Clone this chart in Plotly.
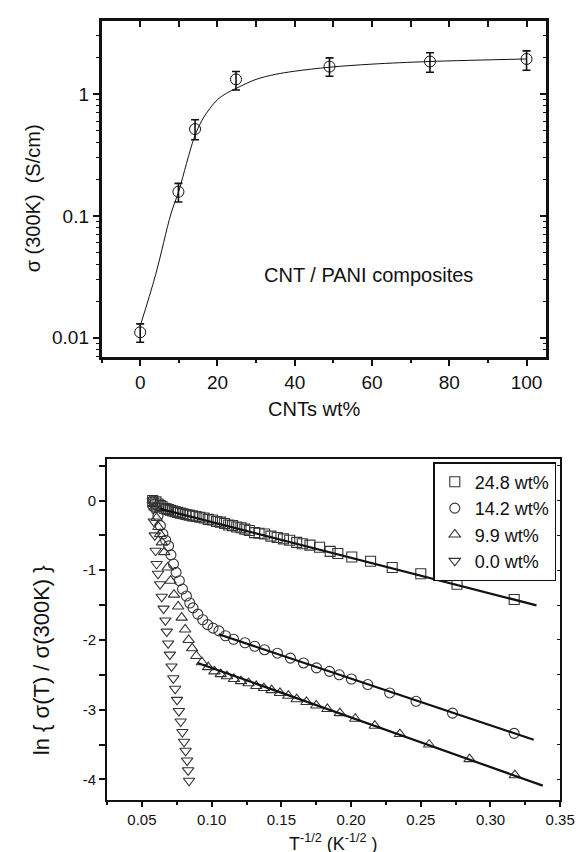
import plotly.graph_objects as go

W, H = 586, 852
FONT = "Liberation Sans, Arial, sans-serif"
INK = "#111111"

# ---- top panel: sigma(300K) vs CNT content ----
WT = [0, 9.9, 14.2, 24.8, 49, 75, 100]
SIGMA = [0.0111, 0.158, 0.516, 1.32, 1.68, 1.85, 1.94]
ERR_UP = [0.0019, 0.027, 0.10, 0.21, 0.30, 0.33, 0.32]
ERR_DN = [0.0019, 0.028, 0.094, 0.24, 0.28, 0.34, 0.37]

FIT_WT = [0, 4, 8, 10, 12, 14, 16, 18, 20, 22, 25, 30, 35, 40, 49, 60, 75, 100]
FIT_SIGMA = [0.0125, 0.033, 0.105, 0.16, 0.27, 0.44, 0.61, 0.76, 0.90, 1.00,
             1.12, 1.32, 1.45, 1.54, 1.66, 1.76, 1.85, 1.94]

# ---- bottom panel: ln(sigma(T)/sigma(300K)) vs T^-1/2 ----
X_248 = [0.0577, 0.0600, 0.0615, 0.0630, 0.0645, 0.0660, 0.0675, 0.0690, 0.0705, 0.0720,
         0.0738, 0.0756, 0.0775, 0.0795, 0.0815, 0.0838, 0.0862, 0.0888, 0.0915, 0.0945,
         0.0975, 0.1006, 0.1035, 0.1064, 0.1093, 0.1122, 0.1150, 0.1180, 0.1210, 0.1238,
         0.1270, 0.1308, 0.1340, 0.1380, 0.1425, 0.1470, 0.1515, 0.1560, 0.1610, 0.1650,
         0.1705, 0.1774, 0.1850, 0.1905, 0.2005, 0.2140, 0.2295, 0.2500, 0.2760, 0.3170]
Y_248 = [0.00, -0.02, -0.05, -0.07, -0.09, -0.11, -0.12, -0.13, -0.14, -0.15,
         -0.16, -0.17, -0.18, -0.19, -0.20, -0.21, -0.22, -0.23, -0.24, -0.25,
         -0.27, -0.28, -0.30, -0.31, -0.33, -0.35, -0.36, -0.38, -0.39, -0.41,
         -0.43, -0.46, -0.47, -0.48, -0.51, -0.53, -0.55, -0.57, -0.60, -0.62,
         -0.64, -0.67, -0.73, -0.76, -0.81, -0.87, -0.96, -1.05, -1.20, -1.42]

X_142 = [0.0577, 0.0590, 0.0600, 0.0615, 0.0632, 0.0650, 0.0670, 0.0691, 0.0708, 0.0726,
         0.0745, 0.0768, 0.0791, 0.0819, 0.0843, 0.0866, 0.0901, 0.0936, 0.0971, 0.1010,
         0.1052, 0.1099, 0.1157, 0.1239, 0.1309, 0.1379, 0.1472, 0.1565, 0.1659, 0.1752,
         0.1845, 0.1915, 0.2002, 0.2120, 0.2277, 0.2466, 0.2728, 0.3170]
Y_142 = [0.00, -0.05, -0.10, -0.22, -0.36, -0.48, -0.57, -0.65, -0.78, -0.91,
         -1.03, -1.15, -1.27, -1.37, -1.47, -1.54, -1.63, -1.71, -1.78, -1.83,
         -1.87, -1.94, -1.99, -2.04, -2.09, -2.14, -2.19, -2.26, -2.33, -2.40,
         -2.45, -2.50, -2.56, -2.64, -2.76, -2.88, -3.05, -3.34]

X_99 = [0.0577, 0.0590, 0.0605, 0.0618, 0.0630, 0.0643, 0.0660, 0.0685, 0.0705, 0.0730,
        0.0760, 0.0785, 0.0810, 0.0835, 0.0860, 0.0890, 0.0930, 0.0975, 0.1020, 0.1065,
        0.1110, 0.1160, 0.1210, 0.1265, 0.1320, 0.1375, 0.1430, 0.1490, 0.1550, 0.1610,
        0.1680, 0.1750, 0.1830, 0.1920, 0.2030, 0.2170, 0.2350, 0.2560, 0.2850, 0.3175]
Y_99 = [0.00, -0.10, -0.25, -0.38, -0.48, -0.60, -0.74, -0.96, -1.15, -1.35,
        -1.52, -1.68, -1.85, -2.00, -2.12, -2.23, -2.32, -2.39, -2.45, -2.49,
        -2.52, -2.56, -2.59, -2.62, -2.66, -2.69, -2.72, -2.76, -2.80, -2.85,
        -2.89, -2.94, -2.99, -3.05, -3.13, -3.23, -3.35, -3.50, -3.71, -3.94]

X_00 = [0.0577, 0.0580, 0.0585, 0.0592, 0.0598, 0.0605, 0.0615, 0.0630, 0.0642, 0.0655,
        0.0668, 0.0678, 0.0688, 0.0700, 0.0712, 0.0725, 0.0738, 0.0752, 0.0765, 0.0778,
        0.0790, 0.0802, 0.0813, 0.0824, 0.0831, 0.0838]
Y_00 = [0.00, -0.12, -0.30, -0.50, -0.72, -0.91, -1.05, -1.20, -1.38, -1.55,
        -1.72, -1.88, -2.05, -2.21, -2.38, -2.55, -2.70, -2.86, -3.02, -3.17,
        -3.32, -3.46, -3.59, -3.73, -3.87, -4.02]

# straight-line fits (end points)
FIT_248_X, FIT_248_Y = [0.0633, 0.333], [-0.12, -1.503]
FIT_142_X, FIT_142_Y = [0.105, 0.331], [-1.918, -3.432]
FIT_99_X, FIT_99_Y = [0.090, 0.3375], [-2.33, -4.09]

X_TOP_TICKS = [0, 20, 40, 60, 80, 100]
Y_TOP_TICKS = [0.01, 0.1, 1]
X_BOT_TICKS = [0.05, 0.10, 0.15, 0.20, 0.25, 0.30, 0.35]
Y_BOT_TICKS = [0, -1, -2, -3, -4]


def px_x(p):
    return p / W


def px_y(p):
    return 1 - p / H


fig = go.Figure()

fig.add_trace(go.Scatter(
    x=FIT_WT, y=FIT_SIGMA, mode="lines", line=dict(color=INK, width=1, shape="spline"),
    showlegend=False, hoverinfo="skip", xaxis="x", yaxis="y",
))
fig.add_trace(go.Scatter(
    x=WT, y=SIGMA, mode="markers",
    marker=dict(symbol="circle-open", size=11, color=INK, line=dict(width=1)),
    error_y=dict(type="data", array=ERR_UP, arrayminus=ERR_DN, color=INK, thickness=1.6, width=4),
    showlegend=False, xaxis="x", yaxis="y",
))
# dummy traces so the inside-tick overlay axes get drawn
fig.add_trace(go.Scatter(x=[None], y=[None], xaxis="x3", yaxis="y3", showlegend=False, hoverinfo="skip"))
fig.add_trace(go.Scatter(x=[None], y=[None], xaxis="x2", yaxis="y4", showlegend=False, hoverinfo="skip"))

series = [
    ("24.8 wt%", X_248, Y_248, "square-open"),
    ("14.2 wt%", X_142, Y_142, "circle-open"),
    ("9.9 wt%", X_99, Y_99, "triangle-up-open"),
    ("0.0 wt%", X_00, Y_00, "triangle-down-open"),
]
for name, xs, ys, sym in series:
    fig.add_trace(go.Scatter(
        x=xs, y=ys, mode="markers", name=name,
        marker=dict(symbol=sym, size=10, color="#333333", line=dict(width=1.1)),
        xaxis="x2", yaxis="y2",
    ))
for fx, fy in [(FIT_248_X, FIT_248_Y), (FIT_142_X, FIT_142_Y), (FIT_99_X, FIT_99_Y)]:
    fig.add_trace(go.Scatter(
        x=fx, y=fy, mode="lines", line=dict(color=INK, width=2.2),
        showlegend=False, hoverinfo="skip", xaxis="x2", yaxis="y2",
    ))

top_x_dom = [px_x(96), px_x(552)]
top_y_dom = [px_y(349.3), px_y(13.3)]
bot_x_dom = [px_x(101.7), px_x(566.7)]
bot_y_dom = [px_y(792.3), px_y(450.7)]
top_yr = [-2.16, 0.597]

axis_common = dict(showgrid=False, zeroline=False, color=INK, tickcolor=INK, linecolor=INK,
                   tickfont=dict(size=19, color=INK))

fig.update_layout(
    width=W, height=H, paper_bgcolor="white", plot_bgcolor="white",
    font=dict(family=FONT, color=INK),
    margin=dict(l=0, r=0, t=0, b=0),
    xaxis=dict(**axis_common, domain=top_x_dom, anchor="y", range=[-10, 105],
               tickvals=X_TOP_TICKS, ticks="outside", ticklen=6, tickwidth=1.5,
               minor=dict(dtick=10, ticks="outside", ticklen=3, tickwidth=1.5, tickcolor=INK),
               showline=True, linewidth=2.5, mirror=True),
    yaxis=dict(**axis_common, domain=top_y_dom, anchor="x", type="log", range=top_yr,
               tickvals=Y_TOP_TICKS, ticktext=["0.01", "0.1", "1"],
               ticks="outside", ticklen=6, tickwidth=1.5,
               minor=dict(dtick="D1", ticks="outside", ticklen=3, tickwidth=1.2, tickcolor=INK),
               showline=True, linewidth=2.5, mirror=True),
    xaxis3=dict(overlaying="x", anchor="y", side="top", range=[-10, 105], showgrid=False,
                zeroline=False, showticklabels=False, tickvals=list(range(0, 101, 10)),
                ticks="inside", ticklen=6, tickwidth=1.5, tickcolor=INK, showline=False),
    yaxis3=dict(overlaying="y", anchor="x", side="right", type="log", range=top_yr, showgrid=False,
                zeroline=False, showticklabels=False, tickvals=Y_TOP_TICKS,
                ticks="inside", ticklen=6, tickwidth=1.5, tickcolor=INK,
                minor=dict(dtick="D1", ticks="inside", ticklen=3, tickwidth=1.2, tickcolor=INK),
                showline=False),
    xaxis2=dict(**axis_common, domain=bot_x_dom, anchor="y2", range=[0.025, 0.35],
                tickvals=X_BOT_TICKS, ticktext=["0.05", "0.10", "0.15", "0.20", "0.25", "0.30", "0.35"],
                ticks="outside", ticklen=5, tickwidth=1.5,
                minor=dict(dtick=0.025, tick0=0.025, ticks="outside", ticklen=3, tickwidth=1.5, tickcolor=INK),
                showline=True, linewidth=2, mirror=True),
    yaxis2=dict(**axis_common, domain=bot_y_dom, anchor="x2", range=[-4.3, 0.6],
                tickvals=Y_BOT_TICKS, ticktext=["0", "-1", "-2", "-3", "-4"],
                ticks="outside", ticklen=6, tickwidth=1.5,
                minor=dict(dtick=0.5, ticks="outside", ticklen=6, tickwidth=1.5, tickcolor=INK),
                showline=True, linewidth=2, mirror=True),
    yaxis4=dict(overlaying="y2", anchor="x2", side="right", range=[-4.3, 0.6], showgrid=False,
                zeroline=False, showticklabels=False, dtick=0.5,
                ticks="inside", ticklen=3, tickwidth=1, tickcolor=INK, showline=False),
    legend=dict(x=px_x(562.7), y=px_y(454), xanchor="right", yanchor="top",
                bgcolor="white", bordercolor=INK, borderwidth=1.5,
                font=dict(size=18, color=INK), tracegroupgap=0),
    showlegend=True,
)
fig.update_xaxes(tickfont=dict(size=15), selector=dict(anchor="y2"))
fig.update_yaxes(tickfont=dict(size=15), selector=dict(anchor="x2"))

ann = [
    dict(text="σ (300K)  (S/cm)", x=px_x(26), y=px_y(190), textangle=-90, size=20),
    dict(text="CNTs wt%", x=px_x(314), y=px_y(401), textangle=0, size=20),
    dict(text="CNT / PANI composites", x=px_x(370), y=px_y(267), textangle=0, size=20),
    dict(text="ln { σ(T) / σ(300K) }", x=px_x(34), y=px_y(652), textangle=-90, size=22),
    dict(text="T<sup>-1/2</sup> (K<sup>-1/2</sup> )", x=px_x(334), y=px_y(834), textangle=0, size=18),
]
for a in ann:
    fig.add_annotation(text=a["text"], x=a["x"], y=a["y"], xref="paper", yref="paper",
                       xanchor="center", yanchor="middle", textangle=a["textangle"],
                       showarrow=False, font=dict(size=a["size"], color=INK, family=FONT))

fig.write_html("out.html")
